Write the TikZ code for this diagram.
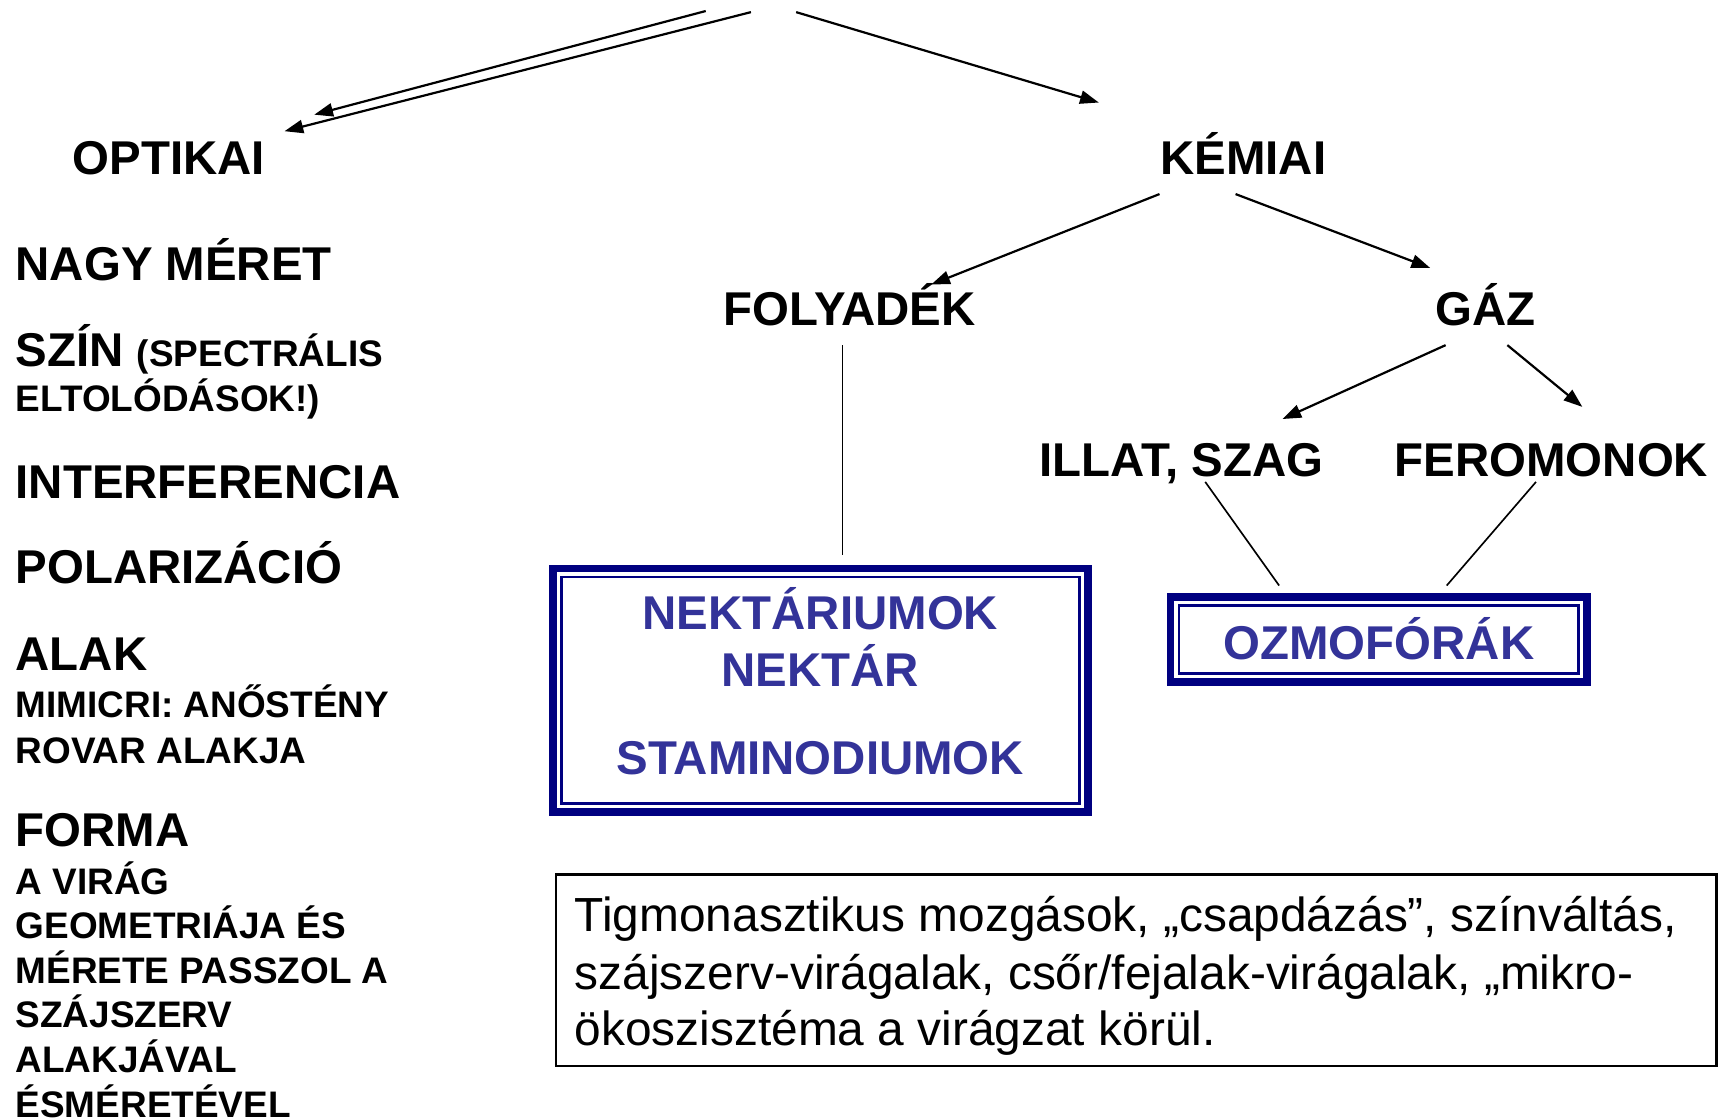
\documentclass[tikz,border=0pt]{standalone}
\usepackage{fontspec}
\setmainfont{Liberation Sans}
\usetikzlibrary{arrows.meta}
\definecolor{navyb}{RGB}{0,0,128}
\definecolor{textb}{RGB}{51,51,153}
\tikzset{
  big/.style={font=\fontsize{43}{50}\selectfont\bfseries, inner sep=0pt},
  small/.style={font=\fontsize{33.5}{40}\selectfont\bfseries, inner sep=0pt},
  bluet/.style={big, text=textb},
  plain/.style={font=\fontsize{43.4}{51.5}\selectfont, inner sep=0pt},
  arr/.style={line width=2pt, -{Triangle[length=17pt,width=12pt]}},
  link/.style={line width=1.5pt},
  frame/.style={draw=navyb, line width=7pt, inner sep=0pt},
  innerframe/.style={draw=navyb, line width=2.5pt},
  textframe/.style={draw=black, line width=2.5pt, inner sep=0pt},
}
\begin{document}
\begin{tikzpicture}[x=1pt,y=-1pt]
\fill[white] (0,0) rectangle (1568,1014);
\useasboundingbox (0,0) rectangle (1568,1014);

% free top ends
\coordinate (t1) at (640,10);
\coordinate (t2) at (681,11);
\coordinate (t3) at (722,11);

% tree nodes
\node[big, anchor=base] (optikai) at (153,158) {OPTIKAI};
\node[big, anchor=base] (kemiai) at (1127.5,158) {KÉMIAI};
\node[big, anchor=base] (folyadek) at (770.5,295) {FOLYADÉK};
\node[big, anchor=base] (gaz) at (1347,295) {GÁZ};
\node[big, anchor=base] (illat) at (1071.5,432) {ILLAT, SZAG};
\node[big, anchor=base] (fero) at (1407,432) {FEROMONOK};

% left column
\node[big, anchor=base west] (nagy) at (14,254) {NAGY MÉRET};
\node[big, anchor=base west] (szin) at (14,332) {SZÍN {\fontsize{33.5}{40}\selectfont (SPECTRÁLIS}};
\node[small, anchor=base west] (eltol) at (14,373) {ELTOLÓDÁSOK!)};
\node[big, anchor=base west] (interf) at (14,452) {INTERFERENCIA};
\node[big, anchor=base west] (polar) at (14,529) {POLARIZÁCIÓ};
\node[big, anchor=base west] (alak) at (14,608) {ALAK};
\node[small, anchor=base west] (mimi) at (14,651) {MIMICRI: ANŐSTÉNY};
\node[small, anchor=base west] (rovar) at (14,692) {ROVAR ALAKJA};
\node[big, anchor=base west] (forma) at (14,768) {FORMA};
\node[small, anchor=base west] (f1) at (14,811) {A VIRÁG};
\node[small, anchor=base west] (f2) at (14,851) {GEOMETRIÁJA ÉS};
\node[small, anchor=base west] (f3) at (14,892) {MÉRETE PASSZOL A};
\node[small, anchor=base west] (f4) at (14,932) {SZÁJSZERV};
\node[small, anchor=base west] (f5) at (14,973) {ALAKJÁVAL};
\node[small, anchor=base west] (f6) at (14,1013) {ÉSMÉRETÉVEL};

% blue framed boxes (anchors lie on the outer edge of the thick line)
\node[frame, minimum width=485pt, minimum height=221pt] (nek) at (744,626) {};
\draw[innerframe] ([shift={(11.25,11.25)}]nek.north west) rectangle ([shift={(-11.25,-11.25)}]nek.south east);
\node[bluet, anchor=base] (nek1) at (744,571) {NEKTÁRIUMOK};
\node[bluet, anchor=base] (nek2) at (744,623) {NEKTÁR};
\node[bluet, anchor=base] (nek3) at (744,702) {STAMINODIUMOK};

\node[frame, minimum width=378pt, minimum height=77pt] (ozmo) at (1250.5,580) {};
\draw[innerframe] ([shift={(11.25,11.25)}]ozmo.north west) rectangle ([shift={(-11.25,-11.25)}]ozmo.south east);
\node[bluet, anchor=base] (ozmot) at (1250.5,598) {OZMOFÓRÁK};

% bottom text box
\node[textframe, minimum width=1052.5pt, minimum height=173.5pt] (tbox) at (1030.5,880) {};
\node[plain, anchor=base west] (tg1) at (521,845) {Tigmonasztikus mozgások, „csapdázás”, színváltás,};
\node[plain, anchor=base west] (tg2) at (521,897) {szájszerv-virágalak, csőr/fejalak-virágalak, „mikro-};
\node[plain, anchor=base west] (tg3) at (521,948) {ökoszisztéma a virágzat körül.};

% arrows
\draw[arr] (t1) -- ([shift={(132,-54)}]optikai.base);
\draw[arr] (t2) -- ([shift={(105,-39)}]optikai.base);
\draw[arr] (t3) -- ([shift={(-131,-65)}]kemiai.base);
\draw[arr] ([shift={(-76,18)}]kemiai.base) -- ([shift={(74,-37)}]folyadek.base);
\draw[arr] ([shift={(-7,18)}]kemiai.base) -- ([shift={(-50,-52)}]gaz.base);
\draw[arr] ([shift={(-36,18)}]gaz.base) -- ([shift={(91.5,-52)}]illat.base);
\draw[arr] ([shift={(20,18)}]gaz.base) -- ([shift={(28,-63)}]fero.base);

% plain links
\draw[link] ([shift={(-6.5,18)}]folyadek.base) -- ([shift={(20,-9)}]nek.north);
\draw[link] ([shift={(21.5,5)}]illat.base) -- ([shift={(-90.5,-7)}]ozmo.north);
\draw[link] ([shift={(-14,5)}]fero.base) -- ([shift={(61.5,-7)}]ozmo.north);
\end{tikzpicture}
\end{document}
